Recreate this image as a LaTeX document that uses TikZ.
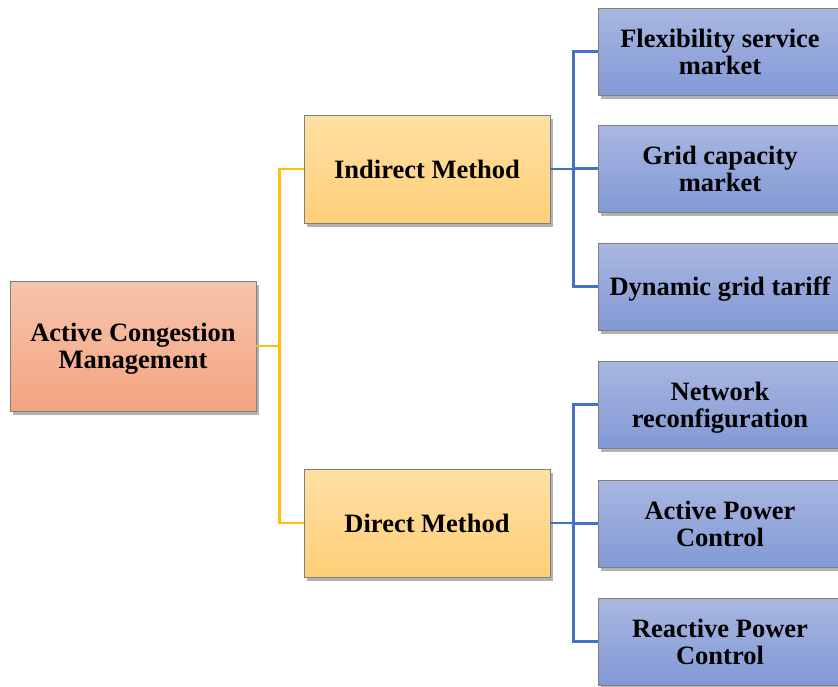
\documentclass[tikz,border=0pt]{standalone}
\usepackage{fontspec}
\setmainfont{Liberation Serif}
\usetikzlibrary{shadows}
\definecolor{rootTop}{HTML}{F7C4AB}
\definecolor{rootBot}{HTML}{F3A482}
\definecolor{midTop}{HTML}{FFE0A3}
\definecolor{midBot}{HTML}{FFCF78}
\definecolor{leafTop}{HTML}{A9B7E1}
\definecolor{leafBot}{HTML}{8299D6}
\definecolor{yLine}{HTML}{FFC000}
\definecolor{bLine}{HTML}{4472C4}
\definecolor{edge}{HTML}{7F7F7F}
\begin{document}
\begin{tikzpicture}[x=1pt,y=-1pt,
  txt/.style={align=center, inner sep=0pt, font=\fontsize{26.5}{27}\selectfont\bfseries},
  box/.style={txt, draw=edge, line width=0.7pt, rectangle,
    drop shadow={shadow xshift=3pt,shadow yshift=-4pt,opacity=0.3,fill=black}},
  rootbox/.style={box, minimum width=246pt, minimum height=130pt, top color=rootTop, bottom color=rootBot},
  midbox/.style={box, minimum width=246pt, minimum height=108pt, top color=midTop, bottom color=midBot},
  leafbox/.style={box, minimum width=244pt, minimum height=87pt, top color=leafTop, bottom color=leafBot},
  low/.style={label={[txt, yshift=-3pt]center:{#1}}},
  yline/.style={draw=yLine, line width=2.5pt},
  bline/.style={draw=bLine, line width=2.5pt}
]
\useasboundingbox (0,0) rectangle (838,686);

\node[rootbox, low={Active Congestion\\Management}] (root) at (133,346) {};
\node[midbox] (ind) at (427,169) {Indirect Method};
\node[midbox] (dir) at (427,523) {Direct Method};

\node[leafbox] (f1) at (720,51.5) {Flexibility service\\market};
\node[leafbox] (f2) at (720,168.5) {Grid capacity\\market};
\node[leafbox, low={Dynamic grid tariff}] (f3) at (720,286.5) {};
\node[leafbox, low={Network\\reconfiguration}] (d1) at (720,404.5) {};
\node[leafbox] (d2) at (720,523.5) {Active Power\\Control};
\node[leafbox] (d3) at (720,641.5) {Reactive Power\\Control};

\draw[yline] (ind.west) -- ++(-24,0) coordinate (yj) |- (dir.west);
\draw[yline] (root.east) -- (root.east -| yj);

\draw[bline] (f1.west) -- ++(-24,0) coordinate (bj1) |- (f3.west);
\draw[bline] (ind.east) -- (ind.east -| bj1);
\draw[bline] (f2.west) -- (f2.west -| bj1);

\draw[bline] (d1.west) -- ++(-24,0) coordinate (bj2) |- (d3.west);
\draw[bline] (dir.east) -- (dir.east -| bj2);
\draw[bline] (d2.west) -- (d2.west -| bj2);
\end{tikzpicture}
\end{document}
